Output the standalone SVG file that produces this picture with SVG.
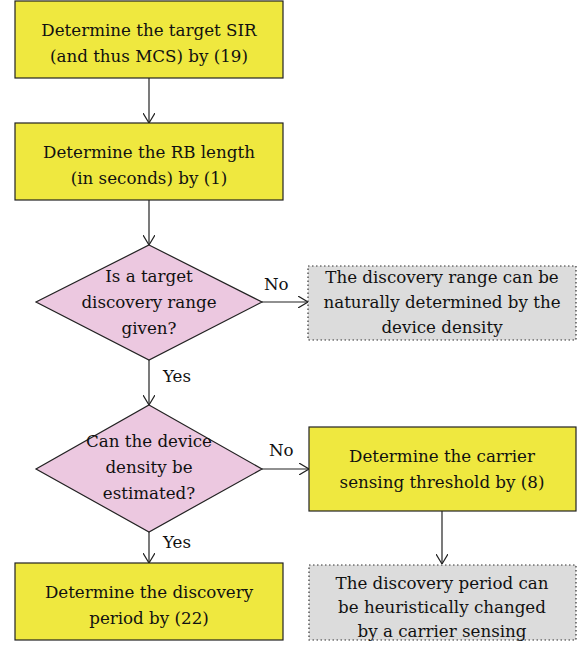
<svg xmlns="http://www.w3.org/2000/svg" width="580" height="646" viewBox="0 0 580 646">
<style>
.box{fill:#efe83f;stroke:#222;stroke-width:1.2}
.dia{fill:#ecc8e0;stroke:#222;stroke-width:1.2}
.gray{fill:#dcdcdc;stroke:#333;stroke-width:1.2;stroke-dasharray:1.5 2.5}
text{font-family:"DejaVu Serif",serif;font-size:16.7px;fill:#111;text-anchor:middle}
.lbl{text-anchor:start}
.con{stroke:#222;stroke-width:1.2;fill:none;marker-end:url(#arr)}
</style>
<defs>
<marker id="arr" viewBox="0 0 10 12" refX="10" refY="6" markerWidth="10" markerHeight="12" markerUnits="userSpaceOnUse" orient="auto">
<path d="M0,0 L10,6 L0,12" fill="none" stroke="#222" stroke-width="1.2"/>
</marker>
</defs>
<g id="connectors">
<line class="con" x1="149" y1="78" x2="149" y2="123"/>
<line class="con" x1="149" y1="200" x2="149" y2="245"/>
<line class="con" x1="262" y1="302" x2="308" y2="302"/>
<line class="con" x1="149" y1="360" x2="149" y2="405"/>
<line class="con" x1="262" y1="469" x2="309" y2="469"/>
<line class="con" x1="149" y1="532" x2="149" y2="563"/>
<line class="con" x1="442" y1="510" x2="442" y2="564"/>
<text class="lbl" x="264" y="290">No</text>
<text class="lbl" x="163" y="382">Yes</text>
<text class="lbl" x="269" y="456">No</text>
<text class="lbl" x="163" y="548">Yes</text>
</g>
<g id="n1">
<rect class="box" x="15" y="1" width="268" height="77"/>
<text x="149" y="36">Determine the target SIR</text>
<text x="149" y="62">(and thus MCS) by (19)</text>
</g>
<g id="n2">
<rect class="box" x="15" y="123" width="268" height="77"/>
<text x="149" y="158">Determine the RB length</text>
<text x="149" y="184">(in seconds) by (1)</text>
</g>
<g id="d1">
<polygon class="dia" points="149,245 262,302 149,360 36,302"/>
<text x="149" y="282">Is a target</text>
<text x="149" y="308">discovery range</text>
<text x="149" y="334">given?</text>
</g>
<g id="g1">
<rect class="gray" x="308" y="266" width="268" height="74"/>
<text x="442" y="283">The discovery range can be</text>
<text x="442" y="308">naturally determined by the</text>
<text x="442" y="333">device density</text>
</g>
<g id="d2">
<polygon class="dia" points="149,405 262,469 149,532 36,469"/>
<text x="149" y="447">Can the device</text>
<text x="149" y="473">density be</text>
<text x="149" y="499">estimated?</text>
</g>
<g id="n3">
<rect class="box" x="309" y="427" width="267" height="84"/>
<text x="442" y="462">Determine the carrier</text>
<text x="442" y="488">sensing threshold by (8)</text>
</g>
<g id="n4">
<rect class="box" x="15" y="563" width="268" height="77"/>
<text x="149" y="598">Determine the discovery</text>
<text x="149" y="624">period by (22)</text>
</g>
<g id="g2">
<rect class="gray" x="309" y="565" width="267" height="75"/>
<text x="442" y="589">The discovery period can</text>
<text x="442" y="613">be heuristically changed</text>
<text x="442" y="637">by a carrier sensing</text>
</g>
</svg>
